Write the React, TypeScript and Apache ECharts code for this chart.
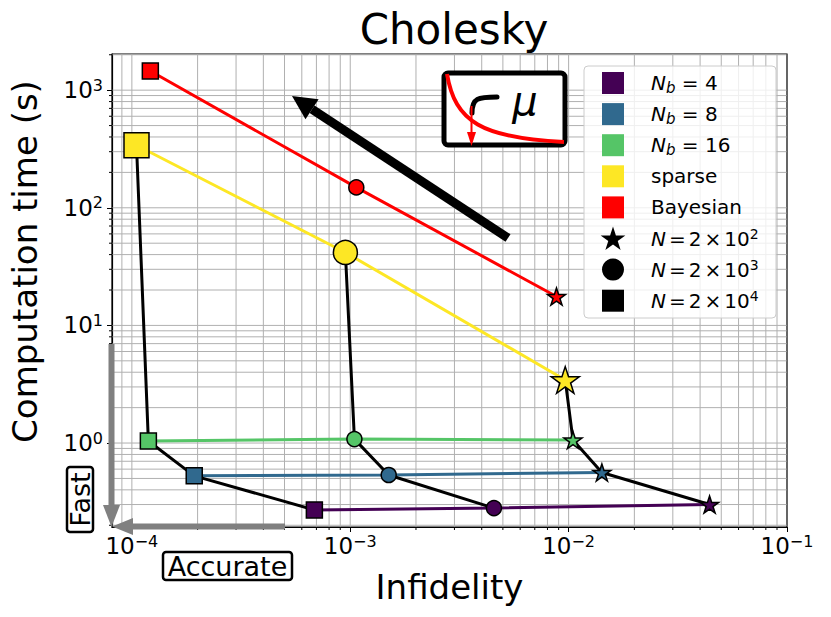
import React, { useEffect, useRef } from 'react';
import * as echarts from 'echarts';

// ---------------- data ----------------
const seriesNames = ['N_b = 4', 'N_b = 8', 'N_b = 16', 'sparse', 'Bayesian'];
const seriesColors = ['#440154', '#30698e', '#55c567', '#fde725', '#ff0000'];
// each series: points ordered N = 2e4 (square), N = 2e3 (circle), N = 2e2 (star)
const infidelityNb4 = [6.85e-4, 4.55e-3, 4.42e-2];
const timeNb4 = [0.27, 0.28, 0.3];
const infidelityNb8 = [1.93e-4, 1.5e-3, 1.42e-2];
const timeNb8 = [0.526, 0.535, 0.562];
const infidelityNb16 = [1.19e-4, 1.045e-3, 1.047e-2];
const timeNb16 = [1.04, 1.08, 1.06];
const infidelitySparse = [1.05e-4, 9.5e-4, 9.65e-3];
const timeSparse = [340, 41.7, 3.44];
const infidelityBayes = [1.215e-4, 1.066e-3, 8.8e-3];
const timeBayes = [1455, 149, 17.6];
const sampleExponents = [4, 3, 2];
const xMajorTicks = [1e-4, 1e-3, 1e-2, 1e-1];
const yMajorTicks = [1, 10, 100, 1000];
const xGridValues = [
  9e-5,
  1e-4, 2e-4, 3e-4, 4e-4, 5e-4, 6e-4, 7e-4, 8e-4, 9e-4,
  1e-3, 2e-3, 3e-3, 4e-3, 5e-3, 6e-3, 7e-3, 8e-3, 9e-3,
  1e-2, 2e-2, 3e-2, 4e-2, 5e-2, 6e-2, 7e-2, 8e-2, 9e-2,
];
const yGridValues = [
  0.2, 0.3, 0.4, 0.5, 0.6, 0.7, 0.8, 0.9,
  1, 2, 3, 4, 5, 6, 7, 8, 9,
  10, 20, 30, 40, 50, 60, 70, 80, 90,
  100, 200, 300, 400, 500, 600, 700, 800, 900,
  1000, 2000,
];

const X_MIN = 8.11e-5;
const X_MAX = 0.1;
const Y_MIN = 0.1933;
const Y_MAX = 2030;

const FONT = 'DejaVu Sans';

function starPoints(cx: number, cy: number, R: number): number[][] {
  const pts: number[][] = [];
  for (let i = 0; i < 10; i++) {
    const r = i % 2 === 0 ? R : R * 0.382;
    const a = ((-90 + 36 * i) * Math.PI) / 180;
    pts.push([cx + r * Math.cos(a), cy + r * Math.sin(a)]);
  }
  return pts;
}
const STAR = 'path://M' + starPoints(50, 50, 50).map((p) => p[0].toFixed(2) + ',' + p[1].toFixed(2)).join('L') + 'Z';
const SYMBOLS = ['rect', 'circle', STAR];

const supFmt = (v: number) => {
  const e = Math.round(Math.log10(v));
  return `{b|10}{s|${e < 0 ? '\u2212' : ''}${Math.abs(e)}}`;
};
const tickRich = {
  b: { fontSize: 23, fontFamily: FONT, color: '#000', lineHeight: 26 },
  s: { fontSize: 16, fontFamily: FONT, color: '#000', verticalAlign: 'top', lineHeight: 16 },
};

export default function App() {
  const ref = useRef<HTMLDivElement>(null);
  useEffect(() => {
    if (!ref.current) return;
    const chart = echarts.init(ref.current, undefined, { renderer: 'svg' });

    const xs = [infidelityNb4, infidelityNb8, infidelityNb16, infidelitySparse, infidelityBayes];
    const ys = [timeNb4, timeNb8, timeNb16, timeSparse, timeBayes];

    const series: any[] = [];

    // grid lines + minor ticks drawn through axis scales
    series.push({
      type: 'custom',
      silent: true,
      z: 1,
      clip: false,
      data: xGridValues.map((v) => [v, 1]),
      renderItem: (params: any, api: any) => {
        const p = api.coord([api.value(0), api.value(1)]);
        const cs = params.coordSys;
        const major = xMajorTicks.some((m) => Math.abs(Math.log10(m) - Math.log10(api.value(0))) < 1e-6);
        return {
          type: 'group',
          children: [
            { type: 'line', shape: { x1: p[0], y1: cs.y + 0.5, x2: p[0], y2: cs.y + cs.height - 0.5 }, style: { stroke: '#b0b0b0', lineWidth: 1 } },
            major ? null : { type: 'line', shape: { x1: p[0], y1: cs.y + cs.height, x2: p[0], y2: cs.y + cs.height + 3 }, style: { stroke: '#000', lineWidth: 1 } },
          ].filter(Boolean),
        };
      },
    });
    series.push({
      type: 'custom',
      silent: true,
      z: 1,
      clip: false,
      data: yGridValues.map((v) => [1e-3, v]),
      renderItem: (params: any, api: any) => {
        const p = api.coord([api.value(0), api.value(1)]);
        const cs = params.coordSys;
        const major = yMajorTicks.some((m) => Math.abs(Math.log10(m) - Math.log10(api.value(1))) < 1e-6);
        return {
          type: 'group',
          children: [
            { type: 'line', shape: { x1: cs.x + 0.5, y1: p[1], x2: cs.x + cs.width - 0.5, y2: p[1] }, style: { stroke: '#b0b0b0', lineWidth: 1 } },
            major ? null : { type: 'line', shape: { x1: cs.x - 3, y1: p[1], x2: cs.x, y2: p[1] }, style: { stroke: '#000', lineWidth: 1 } },
          ].filter(Boolean),
        };
      },
    });

    // colored lines
    for (let i = 0; i < 5; i++) {
      series.push({
        type: 'line',
        name: seriesNames[i],
        data: xs[i].map((x, k) => [x, ys[i][k]]),
        showSymbol: false,
        symbol: 'none',
        lineStyle: { color: seriesColors[i], width: 3 },
        itemStyle: { color: seriesColors[i] },
        z: 3,
        silent: true,
      });
    }
    // black lines joining equal N (sparse -> Nb16 -> Nb8 -> Nb4)
    for (let k = 0; k < 3; k++) {
      const order = [3, 2, 1, 0];
      series.push({
        type: 'line',
        name: 'N = 2 × 10^' + sampleExponents[k],
        data: order.map((i) => [xs[i][k], ys[i][k]]),
        showSymbol: false,
        symbol: 'none',
        lineStyle: { color: '#000', width: 3 },
        z: 3,
        silent: true,
      });
    }
    // markers
    for (let i = 0; i < 5; i++) {
      const big = i === 3;
      series.push({
        type: 'scatter',
        name: seriesNames[i] + ' markers',
        z: 5,
        data: xs[i].map((x, k) => ({
          value: [x, ys[i][k]],
          symbol: SYMBOLS[k],
          symbolSize: big ? [25, 24, 28][k] : [16, 15, 18][k],
          symbolKeepAspect: true,
        })),
        itemStyle: { color: seriesColors[i], borderColor: '#000', borderWidth: 1.5, opacity: 1 },
      });
    }

    // ---- legend (drawn) ----
    const legendX = 584;
    const legendY = 66;
    const rowY0 = 83;
    const rowStep = 31.1;
    const legendRich = {
      i: { fontSize: 20, fontFamily: FONT, fontStyle: 'italic', color: '#000', lineHeight: 24 },
      sub: { fontSize: 15, fontFamily: FONT, fontStyle: 'italic', color: '#000', verticalAlign: 'bottom', lineHeight: 14, padding: [6, 0, 0, 0] },
      n: { fontSize: 20, fontFamily: FONT, color: '#000', lineHeight: 24 },
      op: { fontSize: 20, fontFamily: FONT, color: '#000', lineHeight: 24, padding: [0, 3, 0, 3] },
      sup: { fontSize: 14, fontFamily: FONT, color: '#000', verticalAlign: 'top', lineHeight: 14 },
    };
    const legendTexts = [
      '{i|N}{sub|b}{n| = 4}',
      '{i|N}{sub|b}{n| = 8}',
      '{i|N}{sub|b}{n| = 16}',
      '{n|sparse}',
      '{n|Bayesian}',
      ...sampleExponents.slice().reverse().map((e) => `{i|N}{op|=}{n|2}{op|×}{n|10}{sup|${e}}`),
    ];
    const legendEls: any[] = [
      {
        type: 'rect',
        shape: { x: legendX, y: legendY, width: 192, height: 252, r: 4 },
        style: { fill: 'rgba(255,255,255,0.8)', stroke: '#cccccc', lineWidth: 1 },
        z: 20,
      },
    ];
    legendTexts.forEach((t, j) => {
      const cy = rowY0 + rowStep * j;
      if (j < 5) {
        legendEls.push({ type: 'rect', shape: { x: 602, y: cy - 11, width: 22, height: 22 }, style: { fill: seriesColors[j] }, z: 21 });
      } else if (j === 5) {
        legendEls.push({ type: 'polygon', shape: { points: starPoints(613, cy + 1, 13) }, style: { fill: '#000' }, z: 21 });
      } else if (j === 6) {
        legendEls.push({ type: 'circle', shape: { cx: 613, cy, r: 11 }, style: { fill: '#000' }, z: 21 });
      } else {
        legendEls.push({ type: 'rect', shape: { x: 602, y: cy - 11, width: 22, height: 22 }, style: { fill: '#000' }, z: 21 });
      }
      legendEls.push({
        type: 'text',
        x: 651,
        y: cy,
        style: { text: t, rich: legendRich, verticalAlign: 'middle', align: 'left', fill: '#000' },
        z: 21,
      });
    });

    // ---- annotations ----
    const tip = [292, 96];
    const tail = [508, 238];
    const dx = tip[0] - tail[0];
    const dy = tip[1] - tail[1];
    const len = Math.hypot(dx, dy);
    const ux = dx / len;
    const uy = dy / len;
    const headL = 24;
    const headW = 12;
    const bx = tip[0] - ux * headL;
    const by = tip[1] - uy * headL;
    const nx = -uy;
    const ny = ux;

    const annotations: any[] = [
      { type: 'line', shape: { x1: tail[0], y1: tail[1], x2: bx, y2: by }, style: { stroke: '#000', lineWidth: 9 }, z: 10 },
      { type: 'polygon', shape: { points: [tip, [bx + nx * headW, by + ny * headW], [bx - nx * headW, by - ny * headW]] }, style: { fill: '#000' }, z: 10 },
      // inset box
      { type: 'rect', shape: { x: 444, y: 73, width: 121, height: 72, r: 4 }, style: { fill: '#fff', stroke: '#000', lineWidth: 5 }, z: 10 },
      { type: 'bezierCurve', shape: { x1: 447, y1: 74, cpx1: 455, cpy1: 122, cpx2: 482, cpy2: 138, x2: 564, y2: 142 }, style: { stroke: '#ff0000', lineWidth: 4, fill: null }, z: 11 },
      { type: 'bezierCurve', shape: { x1: 472, y1: 113, cpx1: 472, cpy1: 98, cpx2: 478, cpy2: 97, x2: 497, y2: 97 }, style: { stroke: '#000', lineWidth: 5, fill: null, lineCap: 'round' }, z: 11 },
      { type: 'line', shape: { x1: 471.5, y1: 106, x2: 471.5, y2: 135 }, style: { stroke: '#ff0000', lineWidth: 2 }, z: 12 },
      { type: 'polygon', shape: { points: [[471.5, 146], [467, 132], [476, 132]] }, style: { fill: '#ff0000' }, z: 12 },
      { type: 'text', x: 525, y: 101, style: { text: 'μ', fontSize: 40, fontFamily: FONT, fontStyle: 'italic', fill: '#000', align: 'center', verticalAlign: 'middle' }, z: 12 },
      // gray arrows
      { type: 'line', shape: { x1: 111.5, y1: 344, x2: 111.5, y2: 507 }, style: { stroke: '#808080', lineWidth: 6 }, z: 10 },
      { type: 'polygon', shape: { points: [[111.5, 527], [103, 505], [120, 505]] }, style: { fill: '#808080' }, z: 10 },
      { type: 'line', shape: { x1: 285, y1: 526.5, x2: 131, y2: 526.5 }, style: { stroke: '#808080', lineWidth: 6 }, z: 10 },
      { type: 'polygon', shape: { points: [[112, 526.5], [133, 518], [133, 535]] }, style: { fill: '#808080' }, z: 10 },
      // Fast / Accurate labels
      { type: 'rect', shape: { x: 67, y: 467, width: 26, height: 65, r: 3 }, style: { fill: '#fff', stroke: '#000', lineWidth: 2.5 }, z: 10 },
      { type: 'text', x: 80.5, y: 499.5, rotation: Math.PI / 2, style: { text: 'Fast', fontSize: 27, fontFamily: FONT, fill: '#000', align: 'center', verticalAlign: 'middle' }, z: 11 },
      { type: 'rect', shape: { x: 163, y: 552, width: 129, height: 28, r: 3 }, style: { fill: '#fff', stroke: '#000', lineWidth: 2.5 }, z: 10 },
      { type: 'text', x: 227.5, y: 566, style: { text: 'Accurate', fontSize: 27, fontFamily: FONT, fill: '#000', align: 'center', verticalAlign: 'middle' }, z: 11 },
    ];

    chart.setOption({
      animation: false,
      backgroundColor: '#ffffff',
      title: {
        text: 'Cholesky',
        left: 449,
        top: 3,
        textAlign: 'center',
        textStyle: { fontSize: 42, fontWeight: 'normal', fontFamily: FONT, color: '#000' },
      },
      grid: { left: 112, right: 44, top: 54, bottom: 90, show: true, borderColor: '#000', borderWidth: 1.2, backgroundColor: 'transparent', containLabel: false, outerBoundsMode: 'none' },
      xAxis: {
        type: 'log',
        min: X_MIN,
        max: X_MAX,
        logBase: 10,
        name: 'Infidelity',
        nameLocation: 'middle',
        nameGap: 43,
        nameTextStyle: { fontSize: 34, fontFamily: FONT, color: '#000' },
        axisLine: { show: true, lineStyle: { color: '#000', width: 1.2 } },
        axisTick: { show: true, length: 5, lineStyle: { color: '#000' }, customValues: xMajorTicks },
        axisLabel: { customValues: xMajorTicks, formatter: supFmt, rich: tickRich, margin: 6, color: '#000' },
        splitLine: { show: false },
        minorTick: { show: false },
      },
      yAxis: {
        type: 'log',
        min: Y_MIN,
        max: Y_MAX,
        logBase: 10,
        name: 'Computation time (s)',
        nameLocation: 'middle',
        nameGap: 70,
        nameRotate: 90,
        nameTextStyle: { fontSize: 34, fontFamily: FONT, color: '#000', padding: [0, 0, 0, 58] },
        axisLine: { show: true, lineStyle: { color: '#000', width: 1.2 } },
        axisTick: { show: true, length: 5, lineStyle: { color: '#000' }, customValues: yMajorTicks },
        axisLabel: { customValues: yMajorTicks, formatter: supFmt, rich: tickRich, margin: 9, color: '#000' },
        splitLine: { show: false },
        minorTick: { show: false },
      },
      graphic: [...annotations, ...legendEls],
      series,
    });
    return () => chart.dispose();
  }, []);
  return <div ref={ref} style={{ position: 'fixed', left: 0, top: 0, width: 831, height: 617, background: '#fff' }} />;
}
